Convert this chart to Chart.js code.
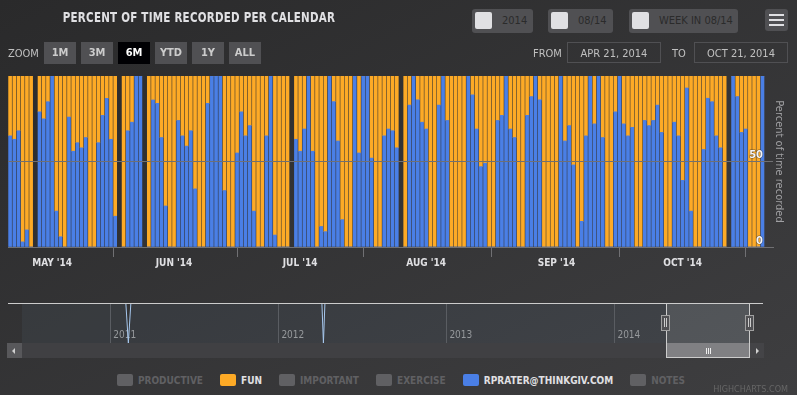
<!DOCTYPE html>
<html>
<head>
<meta charset="utf-8">
<script src="https://cdn.jsdelivr.net/npm/chart.js@4.4.1/dist/chart.umd.min.js"></script>
<style>
  html, body { margin: 0; padding: 0; }
  body {
    width: 797px; height: 395px; overflow: hidden; position: relative;
    background: linear-gradient(to bottom right, #2a2a2b, #3e3e40);
    font-family: "Liberation Sans Narrow", "DejaVu Sans Condensed", "Roboto Condensed", sans-serif;
  }
  .abs { position: absolute; }
  #title {
    left: 20px; width: 358px; top: 9px; text-align: center; white-space: nowrap;
    color: #e0e0e3; font-weight: bold; font-size: 14px; letter-spacing: 0.3px; text-transform: uppercase;
    transform: scaleX(0.82);
  }
  .cal {
    top: 9px; height: 24px; line-height: 24px; background: #505053; border-radius: 3px;
    color: #2b2b2b; font-size: 11px; padding-left: 30px; box-sizing: border-box;
    text-transform: uppercase; white-space: nowrap;
  }
  .cal .box { position: absolute; left: 3px; top: 3px; width: 17px; height: 17px; background: #e0e0e3; border-radius: 2px; }
  #menu { left: 765px; top: 9px; width: 23px; height: 22px; background: #505053; border-radius: 3px; }
  #menu div { position: absolute; left: 4px; width: 15px; height: 2px; background: #e0e0e3; }
  .lbl { top: 47px; font-size: 11px; color: #c0c0c0; text-transform: uppercase; }
  .zbtn {
    top: 42px; width: 32px; height: 22px; line-height: 22px; text-align: center;
    background: #505053; color: #cccccc; font-size: 11px; font-weight: bold; text-transform: uppercase;
  }
  .zbtn.on { background: #000003; color: #ffffff; }
  .inp {
    top: 42px; width: 94px; height: 21px; line-height: 21px; box-sizing: border-box;
    border: 1px solid #505053; color: #c0c0c0; font-size: 11px; text-align: center; text-transform: uppercase;
  }
  #main { left: 0; top: 0; }
  #nav { left: 0; top: 290px; }
  #legend {
    left: 0; width: 802px; top: 374px; display: flex; justify-content: center; gap: 17px;
    font-size: 10px; font-weight: bold; text-transform: uppercase;
  }
  #legend .item { display: flex; align-items: center; white-space: nowrap; }
  #legend .sym { width: 16px; height: 12px; border-radius: 2px; margin-right: 5px; }
  #credits { right: 9px; top: 384px; font-size: 9px; color: #666; text-transform: uppercase; }
</style>
</head>
<body>
<canvas id="main" class="abs" width="797" height="272"></canvas>
<canvas id="nav" class="abs" width="797" height="60"></canvas>

<div id="title" class="abs">Percent of time recorded per calendar</div>

<div class="abs cal" style="left:472px;width:61px"><span class="box"></span>2014</div>
<div class="abs cal" style="left:548px;width:65px"><span class="box"></span>08/14</div>
<div class="abs cal" style="left:629px;width:109px"><span class="box"></span>Week in 08/14</div>
<div id="menu" class="abs"><div style="top:5px"></div><div style="top:10px"></div><div style="top:15px"></div></div>

<div class="abs lbl" style="left:8px">Zoom</div>
<div class="abs zbtn" style="left:44px">1m</div>
<div class="abs zbtn" style="left:81px">3m</div>
<div class="abs zbtn on" style="left:118px">6m</div>
<div class="abs zbtn" style="left:155px">YTD</div>
<div class="abs zbtn" style="left:192px">1y</div>
<div class="abs zbtn" style="left:229px">All</div>
<div class="abs lbl" style="left:533px">From</div>
<div class="abs inp" style="left:567px">Apr 21, 2014</div>
<div class="abs lbl" style="left:672px">To</div>
<div class="abs inp" style="left:694px">Oct 21, 2014</div>

<!-- navigator chrome -->
<div class="abs" style="left:22px;top:343px;width:728px;height:15px;background:#404043"></div>
<div class="abs" style="left:7px;top:343px;width:15px;height:15px;background:#58585b"></div>
<div class="abs" style="left:12px;top:348px;width:0;height:0;border-top:3px solid transparent;border-bottom:3px solid transparent;border-right:3px solid #d0d0d0"></div>
<div class="abs" style="left:750px;top:343px;width:14px;height:15px;background:#444447"></div>
<div class="abs" style="left:756px;top:348px;width:0;height:0;border-top:3px solid transparent;border-bottom:3px solid transparent;border-left:3px solid #d0d0d0"></div>
<div class="abs" style="left:667px;top:303px;width:83px;height:40px;background:rgba(255,255,255,0.1)"></div>
<div class="abs" style="left:667px;top:343px;width:83px;height:15px;background:#808083"></div>
<div class="abs" style="left:708px;top:348px;width:1px;height:6px;background:#eee;box-shadow:2px 0 #eee,-2px 0 #eee"></div>
<div class="abs" style="left:8px;top:303px;width:755px;height:1px;background:#cccccc"></div>
<div class="abs" style="left:666px;top:303px;width:1px;height:55px;background:#cccccc"></div>
<div class="abs" style="left:749px;top:303px;width:1px;height:55px;background:#cccccc"></div>
<div class="abs" style="left:666px;top:357px;width:84px;height:1px;background:#cccccc"></div>
<div class="abs" style="left:661px;top:315px;width:7px;height:14px;background:#505053;border:1px solid #a0a0a0"></div>
<div class="abs" style="left:664px;top:318px;width:1px;height:9px;background:#ccc;box-shadow:2px 0 #ccc"></div>
<div class="abs" style="left:745px;top:315px;width:7px;height:14px;background:#505053;border:1px solid #a0a0a0"></div>
<div class="abs" style="left:748px;top:318px;width:1px;height:9px;background:#ccc;box-shadow:2px 0 #ccc"></div>

<div id="legend" class="abs"></div>
<div id="credits" class="abs">Highcharts.com</div>

<script>
const FONT = '"Liberation Sans Narrow", "DejaVu Sans Condensed", "Roboto Condensed", sans-serif';
const ORANGE = '#fdaa26';
const BLUE = '#4a7fe6';
const HIDDEN = '#606063';

// ordinal day slots Apr 21 .. Oct 21 2014 (days without any record are null)
const slotCount = 182;
const monthTickSlots = [10, 39, 69, 99, 130, 160];
const monthTickLabels = ["MAY '14", "JUN '14", "JUL '14", "AUG '14", "SEP '14", "OCT '14"];

// percent of the day's recorded time, per calendar
const emailShare = [
  65, 63, 68, 3, 10, 0, null, 79, 75, 85,
  100, 21, 6, 0, 76, 56, 61, 58, 64, 0,
  0, 61, 77, 87, 63, 18, null, 0, 68, 73,
  100, 100, null, 0, 86, 84, 64, 24, 0, 0,
  74, 65, 59, 68, 34, 0, 0, 84, 100, 100,
  100, 33, 0, 0, 55, 79, 65, 71, 21, 0,
  0, 65, 100, 7, 0, 0, 0, null, 63, 56,
  69, 100, 56, 0, 12, 9, 100, 85, 62, 16,
  0, 0, 100, 55, 100, 100, 52, 0, 0, 65,
  69, 68, 58, null, 0, 83, 100, 86, 73, 69,
  0, 0, 83, 100, 74, 0, 0, 0, 0, 100,
  89, 69, 47, 49, 0, 0, 74, 77, 100, 69,
  64, 0, 0, 77, 88, 100, 86, 0, 0, 0,
  0, 100, 62, 71, 48, 0, 15, 65, 100, 72,
  100, 64, 0, 0, 79, 100, 72, 65, 70, 0,
  0, 74, 71, 74, 83, 67, 0, 0, 73, 65,
  39, 93, 21, 0, 0, 57, 87, 85, 65, 58,
  0, null, 100, 88, 67, 69, 0, 0, 0, 100
];
const funShare = [
  35, 37, 32, 97, 90, 100, null, 21, 25, 15,
  0, 79, 94, 100, 24, 44, 39, 42, 36, 100,
  100, 39, 23, 13, 37, 82, null, 100, 32, 27,
  0, 0, null, 100, 14, 16, 36, 76, 100, 100,
  26, 35, 41, 32, 66, 100, 100, 16, 0, 0,
  0, 67, 100, 100, 45, 21, 35, 29, 79, 100,
  100, 35, 0, 93, 100, 100, 100, null, 37, 44,
  31, 0, 44, 100, 88, 91, 0, 15, 38, 84,
  100, 100, 0, 45, 0, 0, 48, 100, 100, 35,
  31, 32, 42, null, 100, 17, 0, 14, 27, 31,
  100, 100, 17, 0, 26, 100, 100, 100, 100, 0,
  11, 31, 53, 51, 100, 100, 26, 23, 0, 31,
  36, 100, 100, 23, 12, 0, 14, 100, 100, 100,
  100, 0, 38, 29, 52, 100, 85, 35, 0, 28,
  0, 36, 100, 100, 21, 0, 28, 35, 30, 100,
  100, 26, 29, 26, 17, 33, 100, 100, 27, 35,
  61, 7, 79, 100, 100, 43, 13, 15, 35, 42,
  100, null, 0, 12, 33, 31, 100, 100, 100, 0
];

// navigator overview (whole history, in years)
const navYears = [2010.474, 2011.092, 2011.107, 2011.122, 2012.259, 2012.268, 2012.277, 2014.807];
const navValues = [100, 100, 0, 100, 100, 0, 100, 100];
const navYearTicks = [2011, 2012, 2013, 2014];

Chart.defaults.font.family = FONT;

const toPoints = arr => arr.map((v, i) => ({ x: i, y: v }));

const mainChart = new Chart(document.getElementById('main'), {
  type: 'bar',
  data: {
    datasets: [
      { label: 'Productive', data: [], hidden: true, backgroundColor: HIDDEN },
      { label: 'Fun', data: toPoints(funShare), backgroundColor: ORANGE, order: 2 },
      { label: 'Important', data: [], hidden: true, backgroundColor: HIDDEN },
      { label: 'Exercise', data: [], hidden: true, backgroundColor: HIDDEN },
      { label: 'rprater@thinkgiv.com', data: toPoints(emailShare), backgroundColor: BLUE, order: 1 },
      { label: 'Notes', data: [], hidden: true, backgroundColor: HIDDEN }
    ]
  },
  options: {
    responsive: false,
    animation: false,
    events: [],
    layout: { padding: { left: 8, right: 0, top: 76, bottom: 0 } },
    datasets: { bar: { barThickness: 3, borderWidth: 0 } },
    plugins: { legend: { display: false }, tooltip: { enabled: false } },
    scales: {
      x: {
        type: 'linear', stacked: true, min: -0.5, max: slotCount - 0.5, offset: false,
        afterBuildTicks: s => { s.ticks = monthTickSlots.map(v => ({ value: v })); },
        afterFit: s => { s.height = 25; },
        grid: { drawOnChartArea: false, drawTicks: true, tickLength: 10, color: '#707073', tickColor: '#707073' },
        border: { display: true, color: '#707073' },
        ticks: {
          autoSkip: false, maxRotation: 0, padding: 0, color: '#e0e0e3',
          font: { size: 10, weight: 'bold' },
          callback: (v, i) => monthTickLabels[i]
        }
      },
      y: {
        stacked: true, position: 'right', min: 0, max: 100,
        afterFit: s => { s.width = 24; },
        grid: { color: '#707073', drawTicks: false, z: 1 },
        border: { display: false },
        ticks: {
          z: 2, stepSize: 50, mirror: true, padding: -10, labelOffset: -6, color: '#f4f4f6',
          textStrokeColor: 'rgba(40,40,40,0.6)', textStrokeWidth: 1,
          font: { size: 11, weight: 'bold' },
          callback: v => (v === 100 ? null : v)
        },
        title: {
          display: true, text: 'Percent of time recorded', color: '#a0a0a3',
          font: { size: 11 }, padding: { top: 12, bottom: 0 }
        }
      }
    }
  }
});

new Chart(document.getElementById('nav'), {
  type: 'line',
  data: {
    datasets: [{
      data: navYears.map((x, i) => ({ x: x, y: navValues[i] })),
      borderColor: '#a6c7ed', borderWidth: 1,
      backgroundColor: 'rgba(119,152,191,0.08)', fill: 'origin',
      pointRadius: 0, tension: 0
    }]
  },
  options: {
    responsive: false,
    animation: false,
    events: [],
    layout: { autoPadding: false, padding: { left: 22, right: 47, top: 13, bottom: 7 } },
    plugins: { legend: { display: false }, tooltip: { enabled: false } },
    scales: {
      x: {
        type: 'linear', min: navYears[0], max: navYears[navYears.length - 1],
        afterBuildTicks: s => { s.ticks = navYearTicks.map(v => ({ value: v })); },
        afterFit: s => { s.height = 0; },
        grid: { color: '#58585b', drawTicks: false },
        border: { display: false },
        ticks: {
          autoSkip: false, maxRotation: 0, align: 'start', labelOffset: 3,
          mirror: true, padding: 2,
          color: '#999999', font: { size: 10 },
          callback: v => String(v)
        }
      },
      y: { display: false, min: 0, max: 100 }
    }
  }
});

// legend in Highcharts style: hidden series stay listed in grey
const legendEl = document.getElementById('legend');
mainChart.data.datasets.forEach((ds, i) => {
  const on = mainChart.isDatasetVisible(i);
  const item = document.createElement('div');
  item.className = 'item';
  const sym = document.createElement('div');
  sym.className = 'sym';
  sym.style.background = on ? ds.backgroundColor : HIDDEN;
  const txt = document.createElement('span');
  txt.textContent = ds.label;
  txt.style.color = on ? '#e0e0e3' : HIDDEN;
  item.appendChild(sym);
  item.appendChild(txt);
  legendEl.appendChild(item);
});
</script>
</body>
</html>
